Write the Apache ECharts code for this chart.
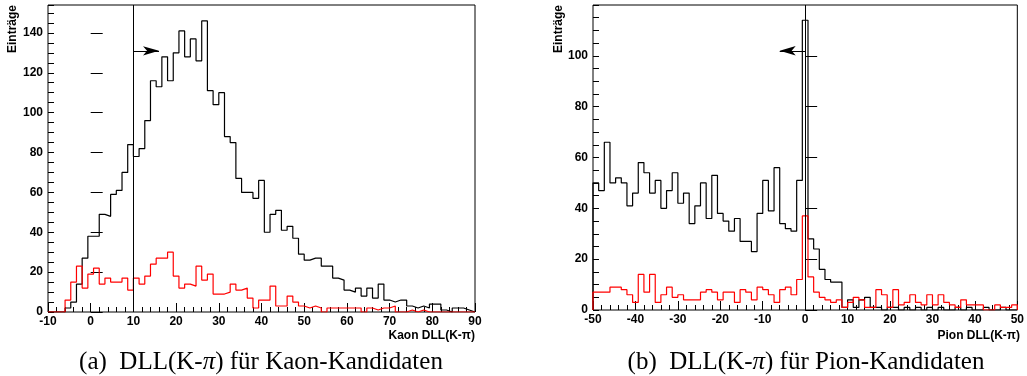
<!DOCTYPE html>
<html>
<head>
<meta charset="utf-8">
<script src="https://cdn.jsdelivr.net/npm/echarts@6/dist/echarts.min.js"></script>
<style>
  html, body { margin: 0; padding: 0; background: #fff; }
  #chart { width: 1027px; height: 376px; }
</style>
</head>
<body>
<div id="chart"></div>
<script>
// binning: 75 bins of width 4/3 for both panels
const kaonLo = -10, kaonHi = 90;
const pionLo = -50, pionHi = 50;
const nBins = 75;

// (a) Kaon candidates: all (black) and misidentified (red)
const kaonAll = [0, 0, 0, 2, 5, 14, 27, 38, 38, 49, 48, 59, 61, 70, 84,
    78, 82, 96, 116, 113, 128, 116, 130, 141, 128, 137, 126, 146, 111, 104,
    110, 88, 85, 67, 60, 60, 57, 66, 40, 49, 51, 41, 43, 37, 29,
    26, 27, 27, 23, 23, 17, 16, 11, 10, 12, 8, 12, 7, 14, 6,
    5, 6, 6, 3, 2, 3, 2, 4, 4, 1, 0, 2, 2, 1, 0];
const kaonRed = [0, 0, 0, 6, 15, 23, 12, 19, 22, 14, 17, 15, 15, 17, 11,
    17, 14, 18, 24, 27, 27, 30, 18, 12, 14, 13, 23, 16, 19, 9,
    9, 10, 14, 11, 12, 7, 2, 6, 6, 13, 3, 3, 8, 5, 3,
    2, 3, 2, 0, 2, 2, 2, 2, 2, 2, 0, 2, 1, 2, 2,
    3, 0, 0, 1, 0, 1, 0, 0, 0, 0, 0, 0, 0, 0, 0];

// (b) Pion candidates
const pionAll = [50, 47, 66, 50, 52, 50, 41, 46, 58, 54, 46, 51, 40, 47, 54,
    42, 46, 34, 41, 50, 36, 53, 38, 35, 31, 36, 27, 27, 23, 38,
    51, 39, 56, 34, 32, 31, 51, 114, 28, 24, 16, 12, 11, 11, 1,
    4, 1, 4, 5, 1, 1, 0, 1, 1, 0, 1, 0, 1, 0, 1,
    0, 1, 0, 0, 1, 0, 1, 0, 0, 1, 0, 0, 1, 0, 0];
const pionRed = [7, 7, 7, 9, 9, 8, 6, 3, 14, 7, 14, 3, 6, 9, 5,
    6, 4, 4, 4, 7, 8, 7, 4, 7, 7, 3, 8, 7, 4, 9,
    8, 6, 3, 8, 9, 6, 12, 37, 13, 7, 5, 4, 3, 4, 1,
    3, 5, 4, 1, 1, 8, 6, 1, 8, 2, 3, 6, 3, 2, 6,
    2, 6, 3, 2, 1, 4, 2, 2, 2, 0, 0, 2, 1, 1, 2];

// cut positions and arrows
const kaonCut = 10, kaonArrow = [[10, 131], [16, 131]];
const pionCut = 0, pionArrow = [[0, 102], [-6, 102]];

const kaonTicks = [-10, 0, 10, 20, 30, 40, 50, 60, 70, 80, 90];
const pionTicks = [-50, -40, -30, -20, -10, 0, 10, 20, 30, 40, 50];

function steps(lo, hi, vals) {
    const w = (hi - lo) / vals.length;
    const pts = [[lo, 0]];
    vals.forEach((v, i) => pts.push([lo + i * w, v]));
    pts.push([hi, 0]);
    return pts;
}

const lab = { color: '#000', fontFamily: 'Liberation Sans', fontWeight: 'bold', fontSize: 12 };

function xAx(idx, lo, hi) {
    return {
        type: 'value', gridIndex: idx, min: lo, max: hi, interval: 10,
        axisLine: { show: false },
        axisTick: { show: true, inside: true, length: 9, lineStyle: { color: '#000' } },
        minorTick: { show: true, splitNumber: 5, length: 5, lineStyle: { color: '#000' } },
        splitLine: { show: false },
        axisLabel: Object.assign({ margin: 4 }, lab)
    };
}
function yMajor(idx, max) {
    return {
        type: 'value', gridIndex: idx, min: 0, max: max, interval: 20,
        axisLine: { show: false },
        axisTick: { show: true, inside: true, length: 12, lineStyle: { color: '#000' } },
        splitLine: { show: false },
        axisLabel: Object.assign({ margin: 5, showMaxLabel: false,
            formatter: v => (v % 20 === 0 ? String(v) : '') }, lab)
    };
}
function yMinor(idx, max) {
    return {
        type: 'value', gridIndex: idx, min: 0, max: max, interval: 5, position: 'left',
        axisLine: { show: false },
        axisTick: { show: true, inside: true, length: 6, lineStyle: { color: '#000' } },
        splitLine: { show: false },
        axisLabel: { show: false }
    };
}

function hist(xi, yi, data, color, z) {
    return {
        type: 'line', step: 'end', xAxisIndex: xi, yAxisIndex: yi,
        data: data, symbol: 'none', animation: false, z: z,
        lineStyle: { color: color, width: 1.2 }
    };
}

const chart = echarts.init(document.getElementById('chart'));
const option = {
    backgroundColor: '#fff',
    animation: false,
    grid: [
        { left: 48, top: 5, width: 427, height: 307, show: true, borderColor: '#000', borderWidth: 1, backgroundColor: 'transparent' },
        { left: 593, top: 5, width: 427, height: 305, show: true, borderColor: '#000', borderWidth: 1, backgroundColor: 'transparent' }
    ],
    xAxis: [xAx(0, kaonLo, kaonHi), xAx(1, pionLo, pionHi)],
    yAxis: [yMajor(0, 154), yMinor(0, 154), yMajor(1, 120), yMinor(1, 120)],
    series: [
        Object.assign(hist(0, 0, steps(kaonLo, kaonHi, kaonAll), '#000', 3), {
            markLine: {
                silent: true, symbol: 'none', animation: false,
                lineStyle: { color: '#000', width: 1, type: 'solid' }, label: { show: false },
                data: [{ xAxis: kaonCut }]
            }
        }),
        Object.assign(hist(0, 0, steps(kaonLo, kaonHi, kaonRed), '#ff0000', 4), {
            markLine: {
                silent: true, symbol: ['none', 'arrow'], symbolSize: [7, 16], animation: false,
                lineStyle: { color: '#000', width: 1, type: 'solid' }, itemStyle: { color: '#000' },
                label: { show: false },
                data: [[{ coord: kaonArrow[0] }, { coord: kaonArrow[1] }]]
            }
        }),
        Object.assign(hist(1, 2, steps(pionLo, pionHi, pionAll), '#000', 3), {
            markLine: {
                silent: true, symbol: 'none', animation: false,
                lineStyle: { color: '#000', width: 1, type: 'solid' }, label: { show: false },
                data: [{ xAxis: pionCut }]
            }
        }),
        Object.assign(hist(1, 2, steps(pionLo, pionHi, pionRed), '#ff0000', 4), {
            markLine: {
                silent: true, symbol: ['none', 'arrow'], symbolSize: [7, 16], animation: false,
                lineStyle: { color: '#000', width: 1, type: 'solid' }, itemStyle: { color: '#000' },
                label: { show: false },
                data: [[{ coord: pionArrow[0] }, { coord: pionArrow[1] }]]
            }
        })
    ],
    graphic: [
        { type: 'text', x: 13, y: 5, rotation: Math.PI / 2,
          style: { text: 'Einträge', align: 'right', verticalAlign: 'middle', fill: '#000',
                   font: 'bold 12px "Liberation Sans"' } },
        { type: 'text', x: 559, y: 5, rotation: Math.PI / 2,
          style: { text: 'Einträge', align: 'right', verticalAlign: 'middle', fill: '#000',
                   font: 'bold 12px "Liberation Sans"' } },
        { type: 'text', x: 475, y: 336,
          style: { text: 'Kaon DLL(K-π)', align: 'right', verticalAlign: 'middle', fill: '#000',
                   font: 'bold 12px "Liberation Sans"' } },
        { type: 'text', x: 1020, y: 336,
          style: { text: 'Pion DLL(K-π)', align: 'right', verticalAlign: 'middle', fill: '#000',
                   font: 'bold 12px "Liberation Sans"' } },
        { type: 'text', x: 261, y: 362,
          style: { text: '(a)  DLL(K-{i|π}) für Kaon-Kandidaten', align: 'center', verticalAlign: 'middle',
                   fill: '#000', font: '25px "Liberation Serif"',
                   rich: { i: { fontStyle: 'italic', fontSize: 25, fontFamily: 'Liberation Serif' } } } },
        { type: 'text', x: 806, y: 362,
          style: { text: '(b)  DLL(K-{i|π}) für Pion-Kandidaten', align: 'center', verticalAlign: 'middle',
                   fill: '#000', font: '25px "Liberation Serif"',
                   rich: { i: { fontStyle: 'italic', fontSize: 25, fontFamily: 'Liberation Serif' } } } }
    ]
};
chart.setOption(option);
</script>
</body>
</html>
